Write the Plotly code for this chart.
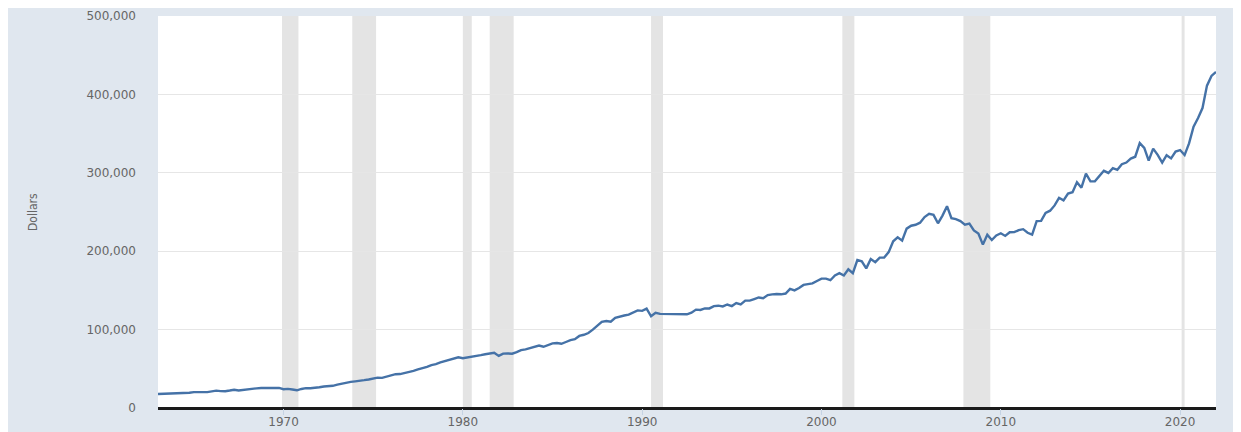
import plotly.graph_objects as go

# ─── Data: median sales price of houses sold, quarterly (USD) ────────────────
START_YEAR = 1963
PRICES = [
    17800, 18000, 17900, 18500,   # 1963
    18500, 18900, 18900, 19400,   # 1964
    20200, 19800, 20200, 20300,   # 1965
    21000, 22100, 21500, 21400,   # 1966
    22300, 23300, 22400, 23300,   # 1967
    23900, 25100, 25100, 25600,   # 1968
    25700, 25900, 25900, 25600,   # 1969
    23900, 24400, 23600, 22600,   # 1970
    24300, 25300, 25200, 25500,   # 1971
    26400, 27400, 27500, 28300,   # 1972
    29900, 31300, 32700, 33300,   # 1973
    34000, 35200, 35500, 36400,   # 1974
    37300, 38700, 38400, 39900,   # 1975
    41700, 43100, 43300, 44400,   # 1976
    45700, 47400, 49200, 50600,   # 1977
    52500, 54800, 55900, 58100,   # 1978
    59600, 61200, 62600, 64700,   # 1979
    63500, 64400, 64600, 66400,   # 1980
    67400, 68600, 69800, 70400,   # 1981
    66400, 69300, 69600, 69300,   # 1982
    71200, 73800, 74700, 76600,   # 1983
    78200, 79700, 78100, 80300,   # 1984
    82500, 82900, 81900, 84200,   # 1985
    86600, 87800, 91900, 93400,   # 1986
    95600, 100000, 104500, 110000,   # 1987
    111000, 110000, 115000, 117000,  # 1988
    118000, 119000, 122000, 124500,  # 1989
    123900, 126800, 117000, 121500,  # 1990
    120000, 119900, 120000, 120000,  # 1991
    119500, 120000, 119500, 121500,  # 1992
    125500, 125000, 127000, 127000,  # 1993
    130000, 130500, 129500, 132000,  # 1994
    130000, 133900, 132000, 137000,  # 1995
    137000, 139000, 141000, 140000,  # 1996
    144000, 145000, 145500, 145000,  # 1997
    146000, 152000, 150000, 153000,  # 1998
    157000, 158000, 159000, 162000,  # 1999
    165000, 165000, 163000, 169000,  # 2000
    172000, 169000, 177000, 172000,  # 2001
    188700, 187200, 178100, 190100,  # 2002
    186000, 191800, 191900, 198800,  # 2003
    212700, 217600, 213500, 228800,  # 2004
    232500, 233700, 236400, 243600,  # 2005
    247700, 246300, 235600, 245400,  # 2006
    257400, 242200, 241000, 238400,  # 2007
    233900, 235300, 226500, 222500,  # 2008
    208400, 220900, 214300, 220100,  # 2009
    222900, 219500, 224100, 224300,  # 2010
    226900, 228100, 223500, 221100,  # 2011
    238400, 238700, 248800, 251700,  # 2012
    258400, 268100, 264800, 273600,  # 2013
    275200, 288000, 281000, 298900,  # 2014
    289200, 289100, 295800, 302500,  # 2015
    299800, 306000, 303800, 310900,  # 2016
    313100, 318200, 320500, 337900,  # 2017
    331800, 315600, 330900, 322800,  # 2018
    313000, 322500, 318400, 327100,  # 2019
    329000, 322600, 337500, 358700,  # 2020
    369800, 382600, 411200, 423600,  # 2021
    428700,                          # 2022
]
DATES = [f"{START_YEAR + i // 4}-{(i % 4) * 3 + 1:02d}-01" for i in range(len(PRICES))]

# NBER recessions (start, end)
RECESSIONS = [
    ("1969-12-01", "1970-11-01"),
    ("1973-11-01", "1975-03-01"),
    ("1980-01-01", "1980-07-01"),
    ("1981-07-01", "1982-11-01"),
    ("1990-07-01", "1991-03-01"),
    ("2001-03-01", "2001-11-01"),
    ("2007-12-01", "2009-06-01"),
    ("2020-02-01", "2020-04-01"),
]

Y_TICKS = [0, 100000, 200000, 300000, 400000, 500000]
X_TICKS = ["1970-01-01", "1980-01-01", "1990-01-01", "2000-01-01", "2010-01-01", "2020-01-01"]
X_LABELS = ["1970", "1980", "1990", "2000", "2010", "2020"]

# ─── Layout geometry (page body adds ~8px offset top/left) ──────────────────
W, H = 1233, 424
ML, MR, MT, MB = 150, 25, 8, 24
PW, PH = W - ML - MR, H - MT - MB

fig = go.Figure()
fig.add_trace(go.Scatter(
    x=DATES, y=PRICES,
    mode="lines",
    line=dict(color="#4572A7", width=2.4),
    showlegend=False,
))

for start, end in RECESSIONS:
    fig.add_shape(
        type="rect", xref="x", yref="paper", layer="below",
        x0=start, x1=end, y0=0, y1=1,
        fillcolor="#E4E4E4", line_width=0,
    )

fig.add_annotation(
    text="Dollars", xref="paper", yref="paper",
    x=(25 - ML) / PW, y=0.5, textangle=-90, showarrow=False,
    xanchor="center", yanchor="middle",
    font=dict(family="DejaVu Sans Condensed", size=12, color="#666666"),
)

fig.update_layout(
    width=W, height=H,
    margin=dict(l=ML, r=MR, t=MT, b=MB, pad=0),
    paper_bgcolor="#E0E7EF",
    plot_bgcolor="white",
    font=dict(family="DejaVu Sans", color="#666666"),
    xaxis=dict(
        range=["1963-01-01", "2022-01-01"],
        tickmode="array", tickvals=X_TICKS, ticktext=X_LABELS,
        showgrid=False, zeroline=False, automargin=False,
        ticks="outside", ticklen=6, tickcolor="#C5D3E3", tickwidth=1,
        tickfont=dict(size=12, color="#666666"),
        ticklabelstandoff=-3,
        showline=False,
    ),
    yaxis=dict(
        range=[0, 500000],
        tickmode="array", tickvals=Y_TICKS,
        tickformat=",d", automargin=False,
        showgrid=True, gridcolor="#E6E6E6", gridwidth=1,
        zeroline=True, zerolinecolor="#1A1A1A", zerolinewidth=2.5,
        tickfont=dict(size=12, color="#666666"),
        ticks="", ticklabelstandoff=21,
    ),
)

fig.write_html("out.html")
